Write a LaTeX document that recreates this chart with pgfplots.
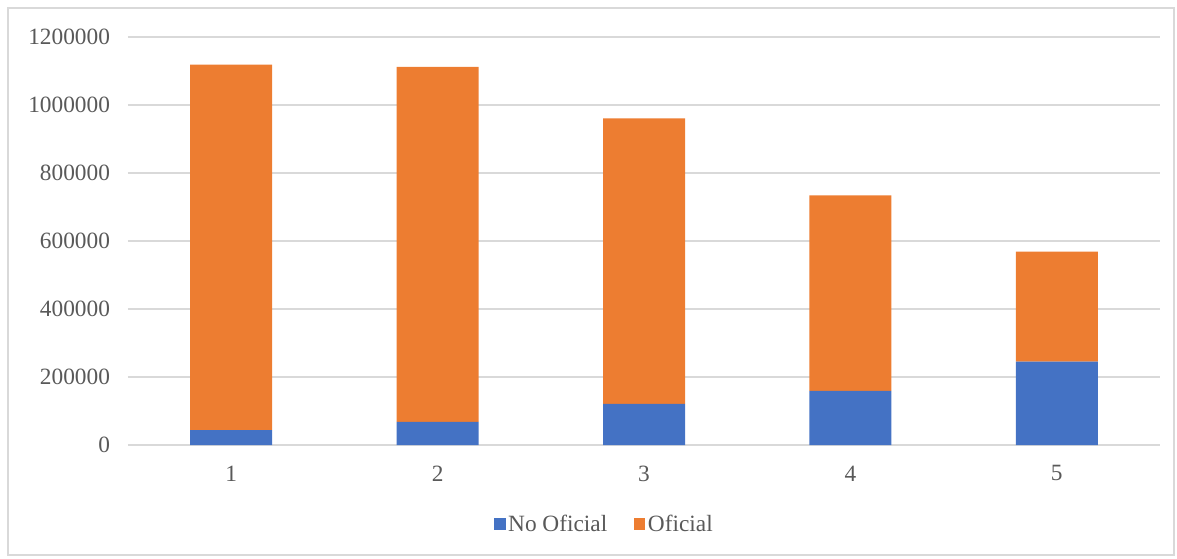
\documentclass[border=0pt]{standalone}
\usepackage{pgfplots}
\pgfplotsset{compat=1.18}
\usepackage{fontspec}
\setmainfont{Liberation Serif}
\definecolor{cblue}{HTML}{4472C4}
\definecolor{corange}{HTML}{ED7D31}
\definecolor{cgrid}{HTML}{D9D9D9}
\definecolor{ctext}{HTML}{595959}
\begin{document}
\begin{tikzpicture}[x=0.75pt,y=0.75pt]
\path[use as bounding box] (0,0) rectangle (1177,558);
\draw[cgrid, line width=1.2pt] (8,3) rectangle (1174,550);
\begin{axis}[
  at={(96pt,84.75pt)}, anchor=south west,
  scale only axis,
  width=774pt, height=306pt,
  xmin=0.5, xmax=5.5,
  ymin=0, ymax=1200000,
  ytick={0,200000,400000,600000,800000,1000000,1200000},
  xtick={1,2,3,4,5},
  ymajorgrids,
  grid style={cgrid, line width=1pt},
  axis x line*=bottom,
  axis y line*=left,
  x axis line style={draw=cgrid, line width=1pt, -},
  y axis line style={draw=none},
  major tick length=0pt,
  scaled y ticks=false,
  /pgf/number format/assume math mode=true,
  yticklabel={\pgfmathprintnumber[fixed,1000 sep={}]{\tick}},
  ticklabel style={font=\fontsize{17.5}{20}\selectfont, text=ctext},
  yticklabel style={xshift=-10pt},
  xticklabel style={yshift=-12pt},
  ybar stacked,
  bar width=61.5pt,
  legend columns=2,
  legend style={at={(0.462,-0.194)}, anchor=center, draw=none, fill=none,
    font=\fontsize{17.5}{20}\selectfont, text=ctext,
    /tikz/every even column/.append style={column sep=18pt},
    /tikz/every odd column/.append style={column sep=0pt}},
  legend image code/.code={\fill[#1] (0pt,-4.2pt) rectangle (8.5pt,4.3pt);},
]
\addplot[fill=cblue, draw=none] coordinates {(1,43500) (2,68000) (3,121000) (4,159000) (5,245000)};
\addlegendentry{No Oficial}
\addplot[fill=corange, draw=none] coordinates {(1,1075500) (2,1044000) (3,840000) (4,575000) (5,324000)};
\addlegendentry{Oficial}
\end{axis}
\end{tikzpicture}
\end{document}
